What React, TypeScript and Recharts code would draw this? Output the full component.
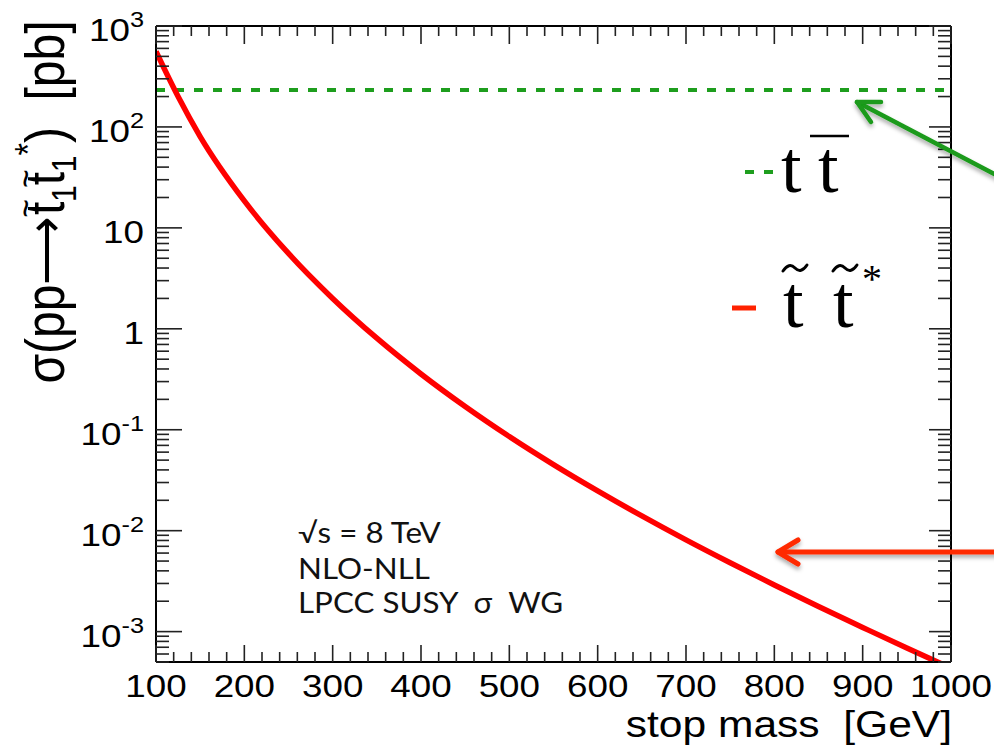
import React from "react";
import { LineChart, Line, XAxis, YAxis } from "recharts";

// stop pair cross section, 8 TeV NLO-NLL (pb)
const stopMass = [100, 125, 150, 200, 250, 300, 350, 400, 450, 500, 550, 600, 650, 700, 750, 800, 850, 900, 950, 1000];
const stopXsec = [
  560, 200, 80.3, 18.5, 5.58, 2.0, 0.807, 0.357, 0.17, 0.0856, 0.0452, 0.0248, 0.014, 0.00811, 0.00481, 0.0029,
  0.00177, 0.0011, 0.000687, 0.000435,
];
const ttbarXsec = 232;

const massTicks = [100, 200, 300, 400, 500, 600, 700, 800, 900, 1000];
const decadeTicks = [0.001, 0.01, 0.1, 1, 10, 100, 1000];
const decadeBase = ["10", "10", "10", "1", "10", "10", "10"];
const decadeExp = ["-3", "-2", "-1", "", "", "2", "3"];

const Y_MIN = 5e-4;
const Y_MAX = 1000;

const minorMass: number[] = [];
for (let m = 120; m < 1000; m += 20) if (m % 100 !== 0) minorMass.push(m);
const allMass = [...massTicks, ...minorMass].sort((a, b) => a - b);

const minorY: number[] = [];
[1e-4, 1e-3, 1e-2, 0.1, 1, 10, 100].forEach((d) => {
  for (let k = 2; k <= 9; k++) {
    const v = Number((k * d).toPrecision(2));
    if (v >= Y_MIN && v < Y_MAX) minorY.push(v);
  }
});
const allY = [...decadeTicks, ...minorY].sort((a, b) => a - b);

const data = stopMass.map((m, i) => ({ mass: m, stop: stopXsec[i], ttbar: ttbarXsec }));

const SANS = "'Liberation Sans', Arial, sans-serif";
const SERIF = "'Liberation Serif', 'Times New Roman', serif";
// the original picture is a bit stretched sideways, so text is widened to match
const WIDE = 1.15;

const decadeIndex = (v: number) => decadeTicks.findIndex((d) => Math.abs(v / d - 1) < 1e-6);

const LeftTick = ({ x, y, payload }: any) => {
  const i = decadeIndex(payload.value);
  const len = i >= 0 ? 26 : 13;
  return (
    <g>
      <line x1={x} x2={x + len} y1={y} y2={y} stroke="#222" strokeWidth={1.6} />
      {i >= 0 && (
        <text
          transform={`translate(${x - 12},${y + 15}) scale(${WIDE},1)`}
          textAnchor="end"
          fontSize={32}
          fontFamily={SANS}
          fill="#000"
        >
          {decadeBase[i]}
          {decadeExp[i] && (
            <tspan dy={-14} fontSize={22}>
              {decadeExp[i]}
            </tspan>
          )}
        </text>
      )}
    </g>
  );
};

const RightTick = ({ x, y, payload }: any) => {
  const len = decadeIndex(payload.value) >= 0 ? 22 : 13;
  return <line x1={x - len} x2={x} y1={y} y2={y} stroke="#222" strokeWidth={1.6} />;
};

const BottomTick = ({ x, y, payload }: any) => {
  const major = massTicks.includes(payload.value);
  return (
    <g>
      <line x1={x} x2={x} y1={y} y2={y - (major ? 17 : 10)} stroke="#222" strokeWidth={1.6} />
      {major && (
        <text
          transform={`translate(${x},${y + 35}) scale(${WIDE},1)`}
          textAnchor="middle"
          fontSize={32}
          fontFamily={SANS}
          fill="#000"
        >
          {payload.value}
        </text>
      )}
    </g>
  );
};

const TopTick = ({ x, y, payload }: any) => {
  const major = massTicks.includes(payload.value);
  return <line x1={x} x2={x} y1={y} y2={y + (major ? 18 : 10)} stroke="#222" strokeWidth={1.6} />;
};

const Tilde = ({ cx, cy, w }: any) => (
  <path
    d={`M${cx - w / 2},${cy + 3} Q${cx - w / 4},${cy - 6} ${cx},${cy} T${cx + w / 2},${cy - 3}`}
    fill="none"
    stroke="#000"
    strokeWidth={3}
    strokeLinecap="round"
  />
);

const frame = { stroke: "#000", strokeWidth: 2 };

export default function App() {
  return (
    <div style={{ position: "absolute", left: 0, top: 0, width: 994, height: 750, background: "#fff" }}>
      <LineChart width={994} height={750} data={data} margin={{ top: 16, right: 33, bottom: 0, left: 76 }}>
        <XAxis
          dataKey="mass"
          type="number"
          domain={[100, 1000]}
          allowDataOverflow
          ticks={allMass}
          interval={0}
          tick={<BottomTick />}
          tickLine={false}
          tickSize={0}
          tickMargin={0}
          axisLine={frame}
          height={88}
        />
        <XAxis
          xAxisId="top"
          orientation="top"
          dataKey="mass"
          type="number"
          domain={[100, 1000]}
          allowDataOverflow
          ticks={allMass}
          interval={0}
          tick={<TopTick />}
          tickLine={false}
          tickSize={0}
          tickMargin={0}
          axisLine={frame}
          height={10}
        />
        <YAxis
          scale="log"
          domain={[Y_MIN, Y_MAX]}
          allowDataOverflow
          ticks={allY}
          interval={0}
          tick={<LeftTick />}
          tickLine={false}
          tickSize={0}
          tickMargin={0}
          axisLine={frame}
          width={80}
        />
        <YAxis
          yAxisId="right"
          orientation="right"
          scale="log"
          domain={[Y_MIN, Y_MAX]}
          allowDataOverflow
          ticks={allY}
          interval={0}
          tick={<RightTick />}
          tickLine={false}
          tickSize={0}
          tickMargin={0}
          axisLine={frame}
          width={10}
        />
        <Line
          dataKey="ttbar"
          type="linear"
          stroke="#1e9e1e"
          strokeWidth={4}
          strokeDasharray="9 10"
          dot={false}
          isAnimationActive={false}
        />
        <Line dataKey="stop" type="monotone" stroke="#ff0000" strokeWidth={5.5} dot={false} isAnimationActive={false} />
      </LineChart>

      <svg width={994} height={750} style={{ position: "absolute", left: 0, top: 0, pointerEvents: "none" }}>
        <defs>
          <filter id="shadow" x="-10%" y="-50%" width="120%" height="200%">
            <feDropShadow dx={0} dy={3} stdDeviation={2} floodColor="#000" floodOpacity={0.35} />
          </filter>
        </defs>

        {/* axis titles */}
        <text
          transform={`translate(64,202) scale(${WIDE},1) rotate(-90)`}
          textAnchor="middle"
          fontSize={48}
          fontFamily={SANS}
          fill="#000"
          style={{ whiteSpace: "pre" }}
        >
          σ(pp⟶t
          <tspan dx={-16} dy={-23} fontSize={32}>
            ~
          </tspan>
          <tspan dx={-3} dy={33} fontSize={30}>
            1
          </tspan>
          <tspan dy={-10}>t</tspan>
          <tspan dx={-16} dy={-23} fontSize={32}>
            ~
          </tspan>
          <tspan dx={-3} dy={33} fontSize={30}>
            1
          </tspan>
          <tspan fontSize={32} dy={-30}>
            *
          </tspan>
          <tspan dy={20}>)  [pb]</tspan>
        </text>
        <text
          transform={`translate(952,737) scale(${WIDE},1)`}
          textAnchor="end"
          fontSize={37}
          fontFamily={SANS}
          fill="#000"
          style={{ whiteSpace: "pre" }}
        >
          stop mass  [GeV]
        </text>

        {/* info block */}
        <g fontFamily="Lato, sans-serif" fontSize={28} fill="#111" transform="translate(298,0) scale(1.12,1)">
          <text x={0} y={543}>√s = 8 TeV</text>
          <text x={0} y={579}>NLO-NLL</text>
          <text x={0} y={613} style={{ whiteSpace: "pre" }}>
            LPCC SUSY  σ  WG
          </text>
        </g>

        {/* legend */}
        <line x1={745} x2={754} y1={172} y2={172} stroke="#1e9e1e" strokeWidth={4} />
        <line x1={764} x2={773} y1={172} y2={172} stroke="#1e9e1e" strokeWidth={4} />
        <text x={781} y={192} fontSize={74} fontFamily={SERIF} fill="#000">
          t
        </text>
        <text x={818} y={192} fontSize={74} fontFamily={SERIF} fill="#000">
          t
        </text>
        <line x1={810} x2={849} y1={136} y2={136} stroke="#000" strokeWidth={2.5} />

        <line x1={732} x2={756} y1={308} y2={308} stroke="#ff2200" strokeWidth={5} />
        <text x={783} y={327} fontSize={74} fontFamily={SERIF} fill="#000">
          t
        </text>
        <Tilde cx={795} cy={268} w={24} />
        <text x={833} y={327} fontSize={74} fontFamily={SERIF} fill="#000">
          t
        </text>
        <Tilde cx={845} cy={268} w={24} />
        <text x={862} y={292} fontSize={40} fontFamily={SERIF} fill="#000">
          *
        </text>

        {/* arrows */}
        <g filter="url(#shadow)" fill="none" strokeLinecap="round" strokeLinejoin="round">
          <line x1={857} y1={102} x2={1000} y2={177} stroke="#1a9a1a" strokeWidth={4.5} />
          <polyline points="881,102 857,102 871,122" stroke="#1a9a1a" strokeWidth={4.5} />
          <line x1={778} y1={552} x2={1000} y2={552} stroke="#ff2a00" strokeWidth={5} />
          <polyline points="798,540 778,552 798,564" stroke="#ff2a00" strokeWidth={5} />
        </g>
      </svg>
    </div>
  );
}
